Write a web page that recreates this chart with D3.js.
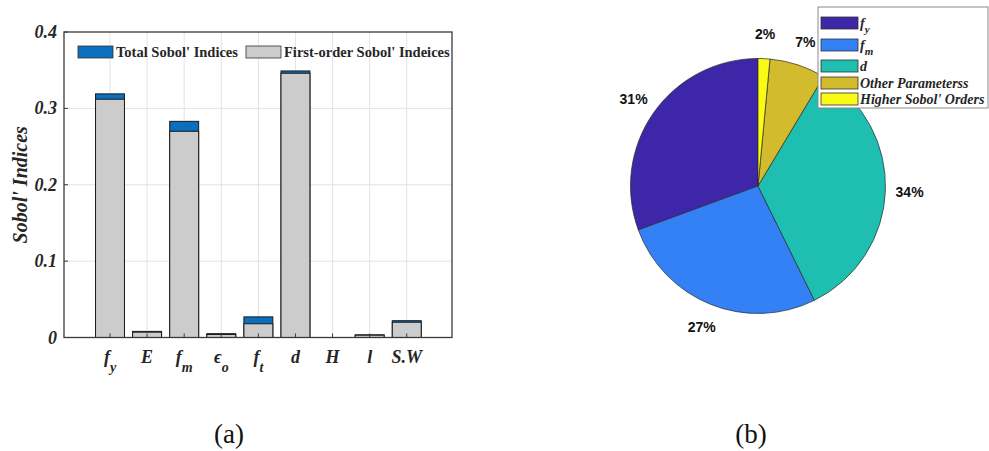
<!DOCTYPE html>
<html>
<head>
<meta charset="utf-8">
<script src="https://cdn.jsdelivr.net/npm/d3@7"></script>
<style>
  body { margin: 0; background: #fff; }
  svg { display: block; }
</style>
</head>
<body>
<div id="theChart"></div>
<script>
// bar chart (a)
const paramMain = ["f", "E", "f", "\u03F5", "f", "d", "H", "l", "S.W"]
const paramSub = ["y", "", "m", "o", "t", "", "", "", ""]
const totalSobol = [0.319, 0.008, 0.283, 0.005, 0.027, 0.349, 0, 0.0035, 0.022]
const firstSobol = [0.312, 0.007, 0.270, 0.004, 0.018, 0.346, 0, 0.003, 0.020]
const yTicks = [0, 0.1, 0.2, 0.3, 0.4]

// pie chart (b)
const pieMain = ["f", "f", "d", "Other Parameterss", "Higher Sobol' Orders"]
const pieSub = ["y", "m", "", "", ""]
const pieShares = [0.306, 0.267, 0.341, 0.071, 0.015]
const pieLabels = ["31%", "27%", "34%", "7%", "2%"]
const pieColors = ["#3e26a8", "#3481f6", "#1ebfb1", "#d2bb2c", "#f9fb15"]

const w = 989
const h = 451

const svg = d3
	.select("#theChart")
	.append("svg")
	.attr("width", w)
	.attr("height", h)

const serif = "Liberation Serif"
const sans = "Liberation Sans"

// ---- bar chart ----
const x = d3.scaleLinear().domain([-1.24, 9.22]).range([64, 452])
const y = d3.scaleLinear().domain([0, 0.4]).range([337.5, 32])
const barW = x(0.78) - x(0)

const ax = svg.append("g")

// grid
ax.selectAll(".vgrid")
	.data(paramMain)
	.enter()
	.append("line")
	.attr("x1", (d, i) => x(i))
	.attr("x2", (d, i) => x(i))
	.attr("y1", y(0))
	.attr("y2", y(0.4))
	.attr("stroke", "#e3e3e3")
	.attr("stroke-width", 1)

ax.selectAll(".hgrid")
	.data(yTicks.slice(1, -1))
	.enter()
	.append("line")
	.attr("x1", x.range()[0])
	.attr("x2", x.range()[1])
	.attr("y1", d => y(d))
	.attr("y2", d => y(d))
	.attr("stroke", "#e3e3e3")
	.attr("stroke-width", 1)

// total indices behind, first-order in front
ax.selectAll(".total")
	.data(totalSobol)
	.enter()
	.append("rect")
	.attr("x", (d, i) => x(i) - barW / 2)
	.attr("y", d => y(d))
	.attr("width", barW)
	.attr("height", d => y(0) - y(d))
	.attr("fill", "#0b6fbd")
	.attr("stroke", d => (d > 0 ? "#1a1a1a" : "none"))
	.attr("stroke-width", 1)

ax.selectAll(".first")
	.data(firstSobol)
	.enter()
	.append("rect")
	.attr("x", (d, i) => x(i) - barW / 2)
	.attr("y", d => y(d))
	.attr("width", barW)
	.attr("height", d => y(0) - y(d))
	.attr("fill", "#cccccc")
	.attr("stroke", d => (d > 0 ? "#1a1a1a" : "none"))
	.attr("stroke-width", 1)

// box
ax.append("rect")
	.attr("x", x.range()[0])
	.attr("y", y(0.4))
	.attr("width", x.range()[1] - x.range()[0])
	.attr("height", y(0) - y(0.4))
	.attr("fill", "none")
	.attr("stroke", "#3a3a3a")
	.attr("stroke-width", 1.3)

// inside ticks
ax.selectAll(".xtick")
	.data(paramMain)
	.enter()
	.append("line")
	.attr("x1", (d, i) => x(i))
	.attr("x2", (d, i) => x(i))
	.attr("y1", y(0))
	.attr("y2", y(0) - 4)
	.attr("stroke", "#3a3a3a")

ax.selectAll(".ytick")
	.data(yTicks)
	.enter()
	.append("line")
	.attr("x1", x.range()[0])
	.attr("x2", x.range()[0] + 4)
	.attr("y1", d => y(d))
	.attr("y2", d => y(d))
	.attr("stroke", "#3a3a3a")

// y tick labels
ax.selectAll(".ylab")
	.data(yTicks)
	.enter()
	.append("text")
	.attr("x", x.range()[0] - 7)
	.attr("y", d => y(d) + 6)
	.attr("text-anchor", "end")
	.style("font-family", serif)
	.style("font-weight", "bold")
	.style("font-style", "italic")
	.style("font-size", "18px")
	.attr("fill", "#262626")
	.text(d => (d === 0 ? "0" : d3.format(".1f")(d)))

// x tick labels
const xl = ax
	.selectAll(".xlab")
	.data(paramMain)
	.enter()
	.append("text")
	.attr("x", (d, i) => x(i))
	.attr("y", 363)
	.attr("text-anchor", "middle")
	.style("font-family", serif)
	.style("font-weight", "bold")
	.style("font-style", "italic")
	.style("font-size", "18px")
	.attr("fill", "#262626")

xl.append("tspan").text(d => d)
xl.append("tspan")
	.attr("dy", 9)
	.style("font-size", "14px")
	.text((d, i) => paramSub[i])

// y axis title
ax.append("text")
	.attr("transform", `translate(27, ${(y(0) + y(0.4)) / 2}) rotate(-90)`)
	.attr("text-anchor", "middle")
	.style("font-family", serif)
	.style("font-weight", "bold")
	.style("font-style", "italic")
	.style("font-size", "20px")
	.attr("fill", "#262626")
	.text("Sobol' Indices")

// bar legend
const barLegend = [
	{ text: "Total Sobol' Indices", color: "#0b6fbd", x: 78 },
	{ text: "First-order Sobol' Indeices", color: "#cccccc", x: 246 },
]

const bl = ax
	.selectAll(".blg")
	.data(barLegend)
	.enter()
	.append("g")
	.attr("transform", d => `translate(${d.x}, 46)`)

bl.append("rect")
	.attr("width", 35)
	.attr("height", 12)
	.attr("fill", d => d.color)
	.attr("stroke", "#333")
	.attr("stroke-width", 0.8)

bl.append("text")
	.attr("x", 38)
	.attr("y", 11)
	.style("font-family", serif)
	.style("font-weight", "bold")
	.style("font-size", "14.5px")
	.attr("fill", "#262626")
	.text(d => d.text)

// ---- pie chart ----
const cx = 758
const cy = 186
const r = 127.5

const pie = d3
	.pie()
	.sort(null)
	.startAngle(0)
	.endAngle(-2 * Math.PI)
const arcs = pie(pieShares)
const arc = d3.arc().innerRadius(0).outerRadius(r)

const pg = svg.append("g").attr("transform", `translate(${cx}, ${cy})`)

pg.selectAll("path")
	.data(arcs)
	.enter()
	.append("path")
	.attr("d", arc)
	.attr("fill", (d, i) => pieColors[i])
	.attr("stroke", "#2a2a2a")
	.attr("stroke-width", 0.7)

const labelArc = d3
	.arc()
	.innerRadius(r * 1.19)
	.outerRadius(r * 1.19)

pg.selectAll(".plab")
	.data(arcs)
	.enter()
	.append("text")
	.attr("x", d => labelArc.centroid(d)[0])
	.attr("y", d => labelArc.centroid(d)[1] + 5)
	.attr("text-anchor", "middle")
	.style("font-family", sans)
	.style("font-weight", "bold")
	.style("font-size", "14px")
	.attr("fill", "#111")
	.text((d, i) => pieLabels[i])

// pie legend
const lg = svg.append("g")
lg.append("rect")
	.attr("x", 818)
	.attr("y", 7)
	.attr("width", 170)
	.attr("height", 101)
	.attr("fill", "#fff")
	.attr("stroke", "#8a8a8a")
	.attr("stroke-width", 1)

const legendY = [17, 39, 60, 77, 93]

const items = lg
	.selectAll(".plg")
	.data(pieMain)
	.enter()
	.append("g")
	.attr("transform", (d, i) => `translate(821, ${legendY[i]})`)

items
	.append("rect")
	.attr("width", 37)
	.attr("height", 12)
	.attr("fill", (d, i) => pieColors[i])
	.attr("stroke", "#333")
	.attr("stroke-width", 0.8)

const it = items
	.append("text")
	.attr("x", 39)
	.attr("y", 11)
	.style("font-family", serif)
	.style("font-weight", "bold")
	.style("font-style", "italic")
	.style("font-size", "14px")
	.attr("fill", "#262626")

it.append("tspan").text(d => d)
it.append("tspan")
	.attr("dy", 5)
	.style("font-size", "11px")
	.text((d, i) => pieSub[i])

// captions
svg.selectAll(".cap")
	.data([
		{ t: "(a)", x: 229 },
		{ t: "(b)", x: 751 },
	])
	.enter()
	.append("text")
	.attr("x", d => d.x)
	.attr("y", 443)
	.attr("text-anchor", "middle")
	.style("font-family", serif)
	.style("font-size", "27px")
	.attr("fill", "#111")
	.text(d => d.t)
</script>
</body>
</html>
